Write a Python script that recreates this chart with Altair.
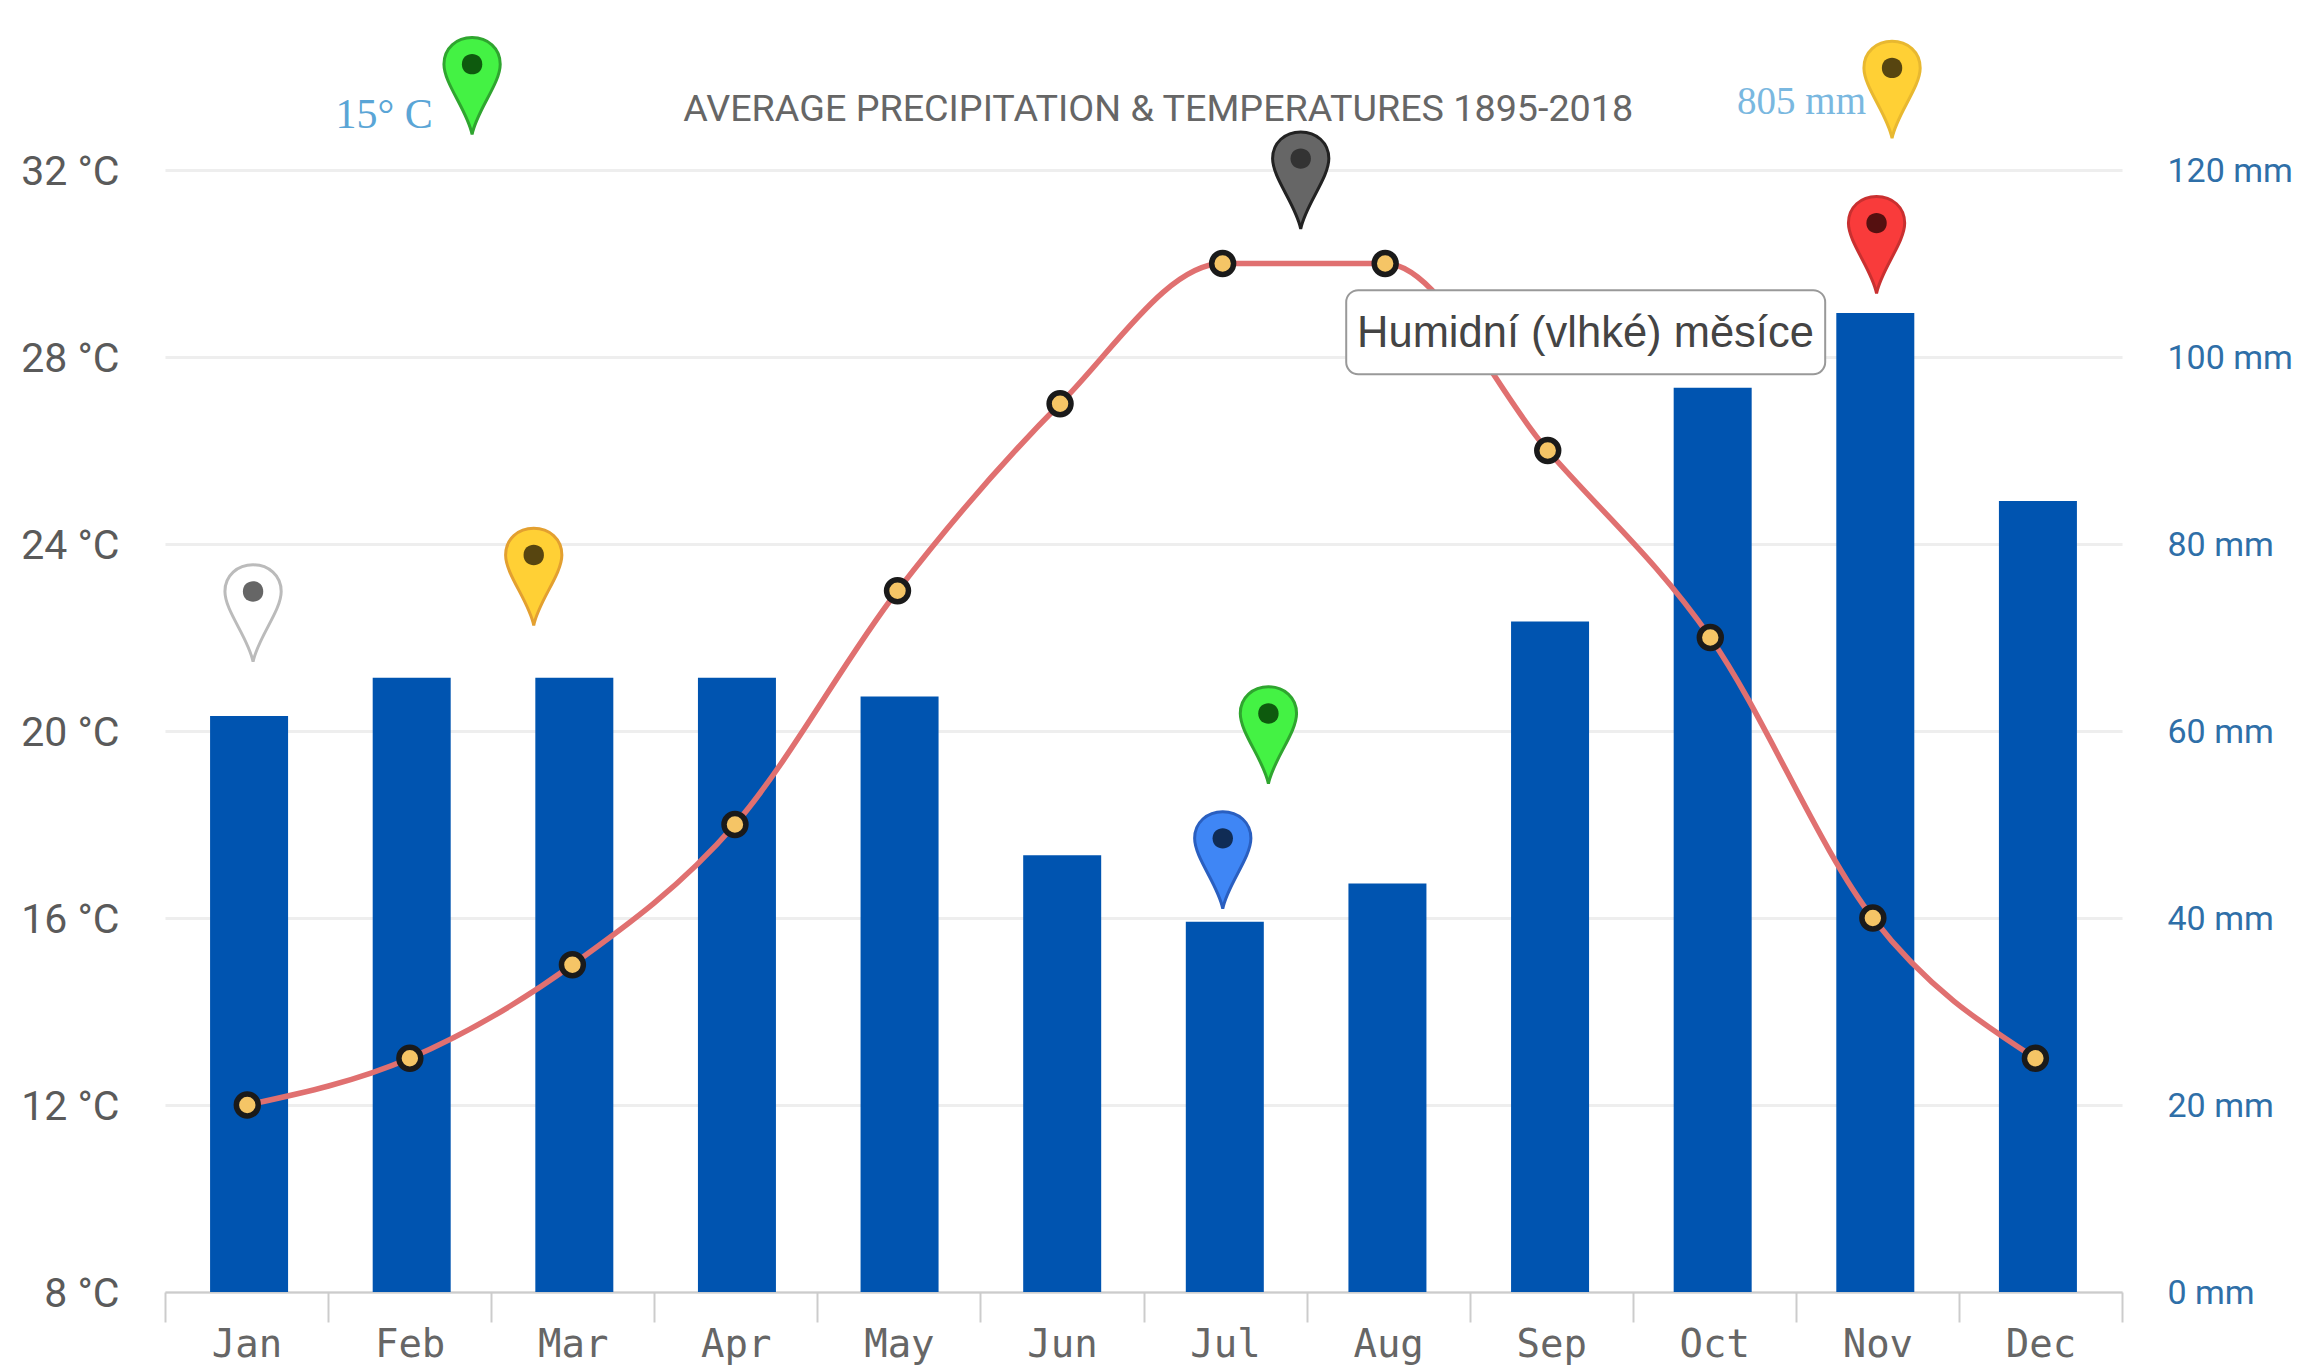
import altair as alt
import pandas as pd

MONTHS = ["Jan", "Feb", "Mar", "Apr", "May", "Jun", "Jul", "Aug", "Sep", "Oct", "Nov", "Dec"]
TEMP = [12, 13, 15, 18, 23, 27, 30, 30, 26, 22, 16, 13]
PRECIP = [61.6, 65.7, 65.7, 65.7, 63.7, 46.7, 39.6, 43.7, 71.7, 96.7, 104.7, 84.6]
TEMP_TICKS = [8, 12, 16, 20, 24, 28, 32]
MM_TICKS = [0, 20, 40, 60, 80, 100, 120]

PIN_NAMES = ["green_top", "gold_top", "dark", "red", "yellow", "white", "green_jul", "blue"]
PIN_MONTH = [1.383, 10.09, 6.464, 9.995, 1.761, 0.04, 6.266, 5.986]
PIN_TEMP = [32.76, 32.68, 30.74, 29.36, 22.26, 21.48, 18.87, 16.2]
PIN_FILL = ["#44f244", "#ffd035", "#666666", "#f93b3b", "#ffd035", "#ffffff", "#44f244", "#3f86f5"]
PIN_STROKE = ["#2fa52f", "#e8b830", "#222222", "#c93030", "#e3a030", "#bbbbbb", "#2fa52f", "#2a5fc0"]
PIN_DOT = ["#0e5a0e", "#574510", "#333333", "#551010", "#574510", "#666666", "#0e5a0e", "#102c55"]

PIN_PATH = "M0,0 C-0.1,-0.5 -0.58,-1.05 -0.58,-1.45 C-0.58,-1.78 -0.32,-2 0,-2 C0.32,-2 0.58,-1.78 0.58,-1.45 C0.58,-1.05 0.1,-0.5 0,0 Z"
DOT_PATH = "M-0.21,-1.45 C-0.21,-1.73 0.21,-1.73 0.21,-1.45 C0.21,-1.17 -0.21,-1.17 -0.21,-1.45 Z"
PIN_SIZE = 9409

TITLE_TEXT = "AVERAGE PRECIPITATION & TEMPERATURES 1895-2018"

PLOT_W, PLOT_H = 1957, 1122
X_DOM = [-0.5, 11.5]
T_DOM = [8, 32]

df = pd.DataFrame({"month": MONTHS, "temp": TEMP, "precip": PRECIP})
pins = pd.DataFrame({"pin": PIN_NAMES, "m": PIN_MONTH, "t": PIN_TEMP})

x_axis = alt.X(
    "month:N",
    sort=MONTHS,
    scale=alt.Scale(type="band", domain=MONTHS, paddingInner=0, paddingOuter=0),
    title=None,
    axis=alt.Axis(
        tickBand="extent", labelAngle=0, labelFont="DejaVu Sans Mono", labelFontSize=39,
        labelColor="#666666", labelPadding=3, tickSize=30, tickColor="#cccccc", tickWidth=2,
        domainColor="#cccccc", domainWidth=2, grid=False, labelBaseline="top",
    ),
)
x_bars = alt.X("month:N", sort=MONTHS, axis=None,
               scale=alt.Scale(type="band", domain=MONTHS, paddingInner=0, paddingOuter=0.017))
x_temp = alt.X("month:N", sort=MONTHS, axis=None,
               scale=alt.Scale(type="band", domain=MONTHS, paddingInner=0, paddingOuter=0.0195, align=0.16))
y_t = alt.Y("temp:Q", scale=alt.Scale(domain=T_DOM, nice=False, zero=False), axis=None)


def qx(field):
    return alt.X(field, type="quantitative", scale=alt.Scale(domain=X_DOM, nice=False, zero=False), axis=None)


def qy(field):
    return alt.Y(field, type="quantitative", scale=alt.Scale(domain=T_DOM, nice=False, zero=False), axis=None)


axis_t = alt.Chart(pd.DataFrame({"v": TEMP_TICKS})).mark_tick(opacity=0).encode(
    y=alt.Y("v:Q", scale=alt.Scale(domain=T_DOM, nice=False, zero=False), title=None,
            axis=alt.Axis(values=TEMP_TICKS, labelExpr="datum.value + ' °C'", labelFont="Roboto",
                          labelFontSize=41, labelColor="#5a5a5a", labelPadding=46, labelOffset=2, ticks=False,
                          domain=False, grid=True, gridColor="#eeeeee", gridWidth=3, orient="left")),
)
axis_x = alt.Chart(df).mark_point(opacity=0).encode(x=x_axis)

bars = alt.Chart(df).mark_bar(size=78, color="#0054b0").encode(
    x=x_bars,
    y=alt.Y("precip:Q", scale=alt.Scale(domain=[0, 120], nice=False), title=None,
            axis=alt.Axis(values=MM_TICKS, labelExpr="datum.value + ' mm'", labelFont="Roboto",
                          labelFontSize=34, labelColor="#2f6fa8", labelPadding=45, labelOffset=1, ticks=False,
                          domain=False, grid=False, orient="right")),
)

line = alt.Chart(df).mark_line(interpolate="monotone", color="#e07070", strokeWidth=5.5).encode(x=x_temp, y=y_t)
points = alt.Chart(df).mark_point(filled=True, size=480, fill="#f5c566", stroke="#1a1a1a", strokeWidth=5.5, opacity=1).encode(
    x=x_temp, y=y_t
)

pin_marks = alt.Chart(pins).mark_point(shape=PIN_PATH, size=PIN_SIZE, filled=True, strokeWidth=3, opacity=1).encode(
    x=qx("m"), y=qy("t"),
    fill=alt.Fill("pin:N", scale=alt.Scale(domain=PIN_NAMES, range=PIN_FILL), legend=None),
    stroke=alt.Stroke("pin:N", scale=alt.Scale(domain=PIN_NAMES, range=PIN_STROKE), legend=None),
)
pin_dots = alt.Chart(pins).mark_point(shape=DOT_PATH, size=PIN_SIZE, filled=True, strokeWidth=0, opacity=1).encode(
    x=qx("m"), y=qy("t"),
    fill=alt.Fill("pin:N", scale=alt.Scale(domain=PIN_NAMES, range=PIN_DOT), legend=None),
)

title_mark = alt.Chart(pd.DataFrame({"m": [5.59], "t": [33.29], "s": [TITLE_TEXT]})).mark_text(
    font="Roboto", fontSize=37.7, color="#666666", align="center", baseline="middle"
).encode(x=qx("m"), y=qy("t"), text="s:N")

note_t = alt.Chart(pd.DataFrame({"m": [0.545], "t": [33.17], "s": ["15° C"]})).mark_text(
    font="Liberation Serif", fontSize=42, color="#5aa5d6", align="left", baseline="middle"
).encode(x=qx("m"), y=qy("t"), text="s:N")

note_p = alt.Chart(pd.DataFrame({"m": [9.14], "t": [33.46], "s": ["805 mm"]})).mark_text(
    font="Liberation Serif", fontSize=39, color="#7ab8e0", align="left", baseline="middle"
).encode(x=qx("m"), y=qy("t"), text="s:N")

box = alt.Chart(pd.DataFrame({"a": [6.743], "b": [9.68], "c": [29.43], "d": [27.63]})).mark_rect(
    fill="#ffffff", stroke="#999999", strokeWidth=2, cornerRadius=12
).encode(
    x=qx("a"), x2="b:Q", y=qy("c"), y2="d:Q"
)
box_text = alt.Chart(pd.DataFrame({"m": [8.21], "t": [28.5], "s": ["Humidní (vlhké) měsíce"]})).mark_text(
    font="Liberation Sans", fontSize=43.5, color="#444444", align="center", baseline="middle"
).encode(x=qx("m"), y=qy("t"), text="s:N")

chart = (
    alt.layer(axis_t, axis_x, bars, line, points, pin_marks, pin_dots, title_mark, note_t, note_p, box, box_text)
    .resolve_scale(x="independent", y="independent", fill="independent", stroke="independent")
    .properties(
        width=PLOT_W, height=PLOT_H,
        background="#ffffff",
        autosize=alt.AutoSizeParams(type="none"),
        padding={"left": 157, "top": 162, "right": 174, "bottom": 75},
    )
    .configure_view(stroke=None)
)

chart.save("out.html", embed_options={"renderer": "svg", "actions": False})
